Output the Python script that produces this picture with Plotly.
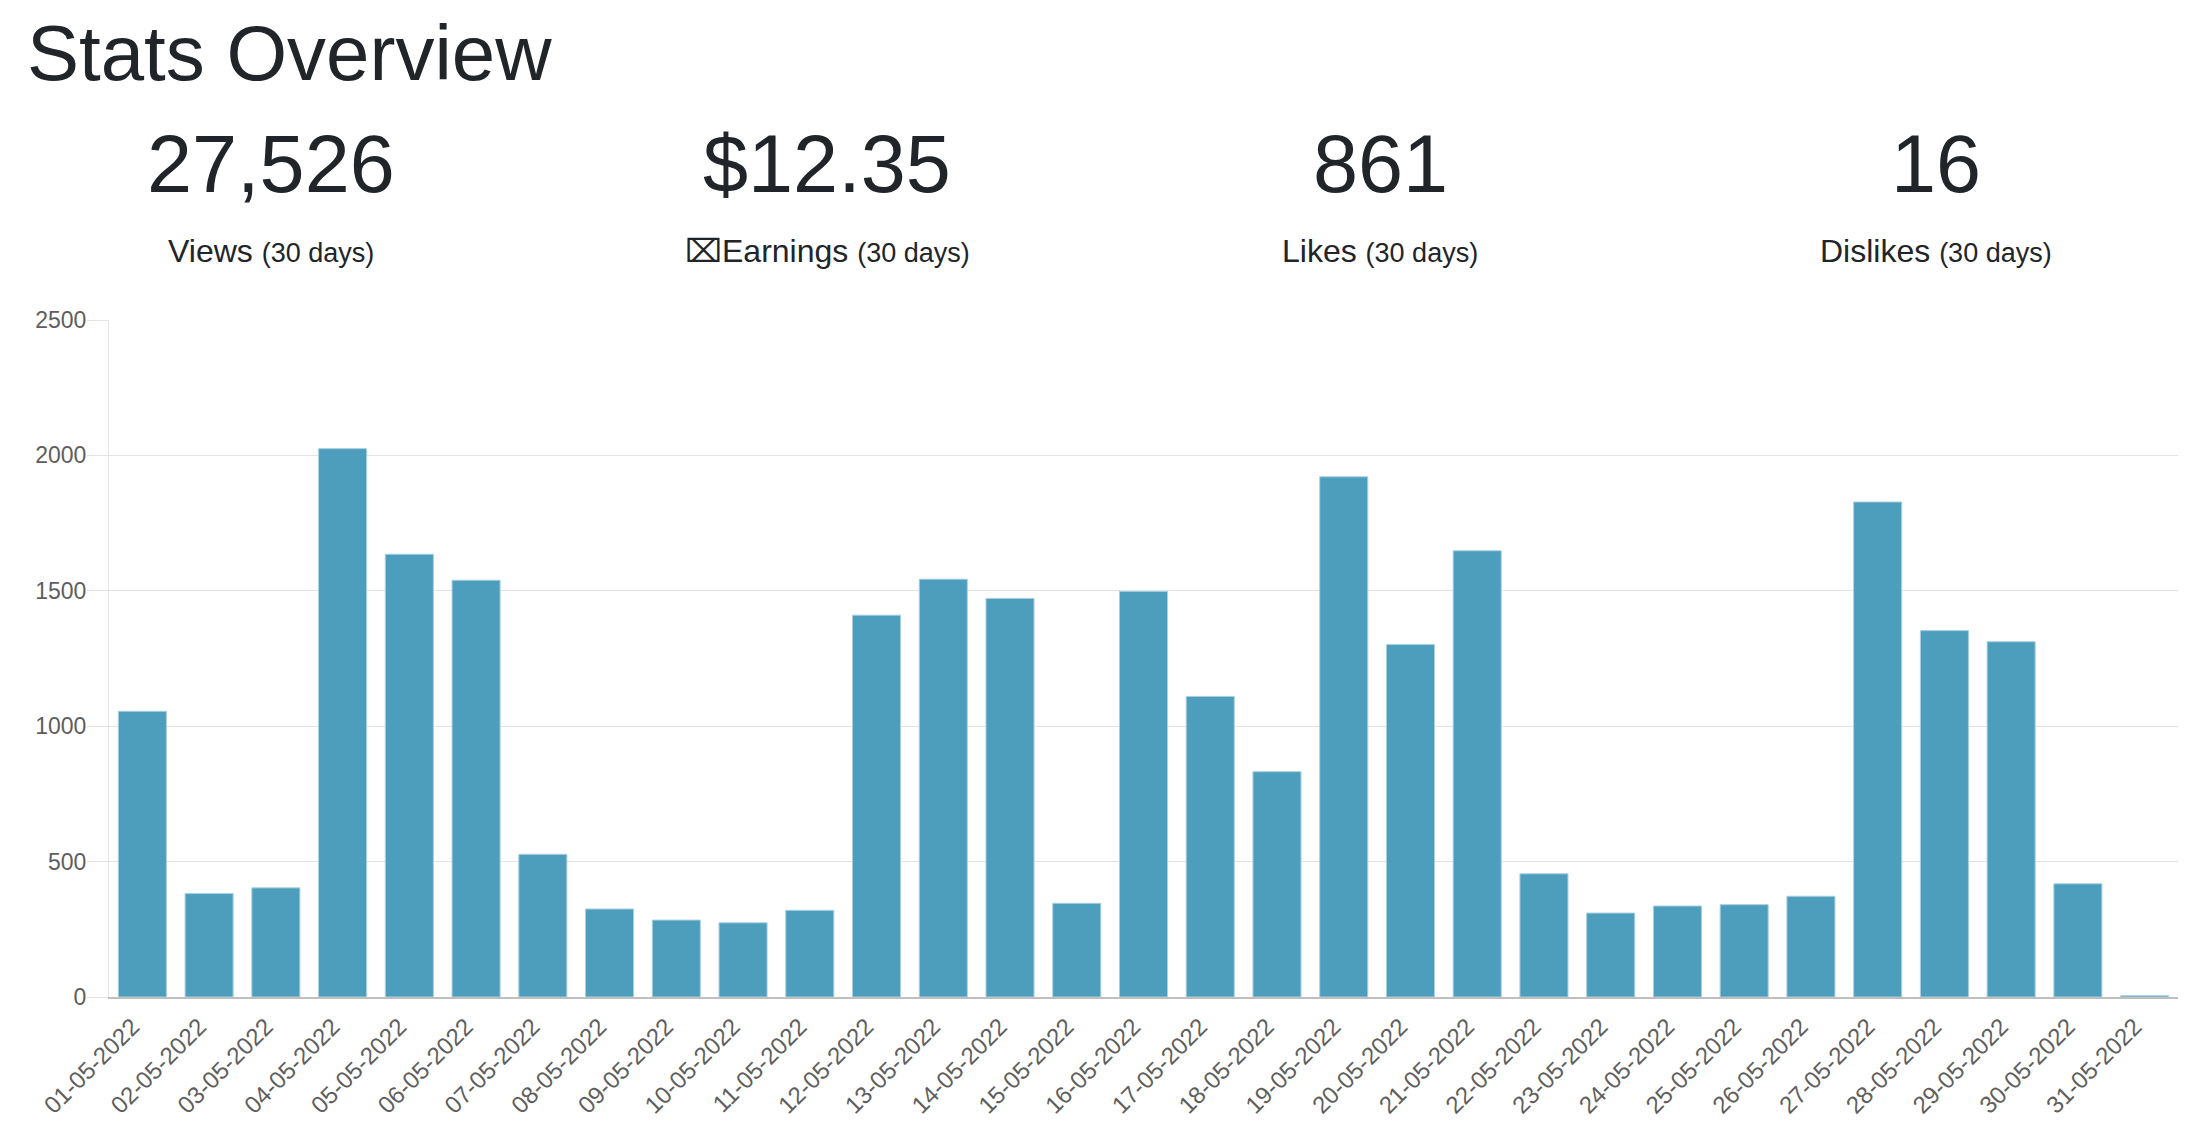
import plotly.graph_objs as go

days = ["01-05-2022", "02-05-2022", "03-05-2022", "04-05-2022", "05-05-2022",
        "06-05-2022", "07-05-2022", "08-05-2022", "09-05-2022", "10-05-2022",
        "11-05-2022", "12-05-2022", "13-05-2022", "14-05-2022", "15-05-2022",
        "16-05-2022", "17-05-2022", "18-05-2022", "19-05-2022", "20-05-2022",
        "21-05-2022", "22-05-2022", "23-05-2022", "24-05-2022", "25-05-2022",
        "26-05-2022", "27-05-2022", "28-05-2022", "29-05-2022", "30-05-2022",
        "31-05-2022"]
views = [1055, 382, 403, 2025, 1635, 1539, 527, 325, 284, 274,
         320, 1410, 1543, 1472, 346, 1498, 1110, 832, 1921, 1302,
         1648, 455, 310, 336, 341, 372, 1828, 1353, 1312, 418,
         5]

stat_values = ["27,526", "$12.35", "861", "16"]
stat_names = ["Views", "\u2327Earnings", "Likes", "Dislikes"]
stat_period = "(30 days)"

# page body has an 8px margin, so the figure is a bit smaller than the window
OFF = 8
W, H = 2190 - OFF, 1134 - OFF
L, R, T, B = 109 - OFF, 12, 320 - OFF, 137
FONT = "Liberation Sans, Arial, Helvetica, sans-serif"
DARK = "#212529"


def px_x(x):
    # x given in window pixels
    return (x - OFF - L) / (W - L - R)


def px_y(y):
    return (H - B - (y - OFF)) / (H - T - B)


fig = go.Figure()
fig.add_trace(go.Bar(
    x=days,
    y=views,
    marker=dict(color="#4d9dbd", line=dict(color="#a9d0e0", width=1)),
    hoverinfo="x+y",
))

annotations = [dict(
    text="Stats Overview", x=px_x(25), y=px_y(53), xref="paper", yref="paper",
    xanchor="left", yanchor="middle", showarrow=False,
    font=dict(size=78, color=DARK, family=FONT),
)]

centers = [271, 827, 1380, 1936]
for cx, val, name in zip(centers, stat_values, stat_names):
    annotations.append(dict(
        text=val, x=px_x(cx), y=px_y(164), xref="paper", yref="paper",
        xanchor="center", yanchor="middle", showarrow=False,
        font=dict(size=81, color=DARK, family=FONT),
    ))
    annotations.append(dict(
        text=name + " <span style='font-size:27px'>" + stat_period + "</span>",
        x=px_x(cx), y=px_y(251), xref="paper", yref="paper",
        xanchor="center", yanchor="middle", showarrow=False,
        font=dict(size=32, color=DARK, family=FONT),
    ))

fig.update_layout(
    width=W, height=H,
    margin=dict(l=L, r=R, t=T, b=B, pad=0),
    paper_bgcolor="white", plot_bgcolor="white",
    font=dict(family=FONT, color="#666666"),
    showlegend=False,
    bargap=0.28,
    annotations=annotations,
    xaxis=dict(
        type="category", tickangle=-45, tickfont=dict(size=24, color="#5e5e5e"),
        ticklabelshift=-10, ticklabelstandoff=4,
        showgrid=False, showline=True, linecolor="#bfbfbf", linewidth=2,
        ticks="", zeroline=False,
    ),
    yaxis=dict(
        range=[0, 2500], dtick=500, tickfont=dict(size=23, color="#5e5e5e"),
        ticklabelstandoff=-4,
        showgrid=True, gridcolor="#e3e3e3", gridwidth=1,
        showline=True, linecolor="#e3e3e3", linewidth=1,
        ticks="outside", ticklen=21, tickcolor="#e3e3e3", zeroline=False,
    ),
)

fig.write_html("out.html")
